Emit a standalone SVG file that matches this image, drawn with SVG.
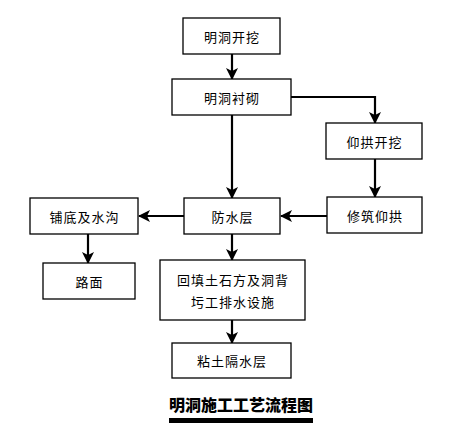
<svg xmlns="http://www.w3.org/2000/svg" width="474" height="444" viewBox="0 0 474 444">
<defs>
<marker id="ah" markerWidth="12" markerHeight="12" refX="11" refY="6" orient="auto" markerUnits="userSpaceOnUse">
<path d="M0,0 L12,6 L0,12 L3,6 Z" fill="#000"/>
</marker>
<style>
.b{fill:#fff;stroke:#000;stroke-width:1.3}
.t{font-family:"Noto Sans CJK SC","Noto Sans",sans-serif;font-size:13px;letter-spacing:1px;fill:#000;text-anchor:middle;dominant-baseline:central}
.c{fill:none;stroke:#000;stroke-width:2.2;marker-end:url(#ah)}
</style>
</defs>
<rect width="474" height="444" fill="#fff"/>
<g id="connectors">
<path class="c" d="M232,54 V79"/>
<path class="c" d="M291,97 H375 V123"/>
<path class="c" d="M232,115 V198"/>
<path class="c" d="M375,159 V197"/>
<path class="c" d="M327,216 H281"/>
<path class="c" d="M184,216 H139"/>
<path class="c" d="M88,234 V263"/>
<path class="c" d="M232,234 V260"/>
<path class="c" d="M232,320 V343"/>
</g>
<g id="n1"><rect class="b" x="183" y="18" width="97" height="36"/><text class="t" x="232" y="36">明洞开挖</text></g>
<g id="n2"><rect class="b" x="172" y="79" width="119" height="36"/><text class="t" x="232" y="97">明洞衬砌</text></g>
<g id="n3"><rect class="b" x="326" y="123" width="96" height="36"/><text class="t" x="374.5" y="141">仰拱开挖</text></g>
<g id="n4"><rect class="b" x="327" y="197" width="95" height="36"/><text class="t" x="375" y="215">修筑仰拱</text></g>
<g id="n5"><rect class="b" x="184" y="198" width="96" height="36"/><text class="t" x="232.5" y="216">防水层</text></g>
<g id="n6"><rect class="b" x="30" y="198" width="108" height="36"/><text class="t" x="84.5" y="216">铺底及水沟</text></g>
<g id="n7"><rect class="b" x="43" y="263" width="92" height="36"/><text class="t" x="89.5" y="281">路面</text></g>
<g id="n8"><rect class="b" x="160" y="260" width="145" height="60"/><text class="t" x="233" y="279">回填土石方及洞背</text><text class="t" x="233" y="301">圬工排水设施</text></g>
<g id="n9"><rect class="b" x="172" y="343" width="119" height="35"/><text class="t" x="232" y="360.5">粘土隔水层</text></g>
<g id="title">
<text x="241" y="404" style="font-family:'Noto Sans CJK SC','Noto Sans',sans-serif;font-size:16px;font-weight:900;text-anchor:middle;dominant-baseline:central">明洞施工工艺流程图</text>
<rect x="169" y="418" width="144" height="5" fill="#000"/>
</g>
</svg>
